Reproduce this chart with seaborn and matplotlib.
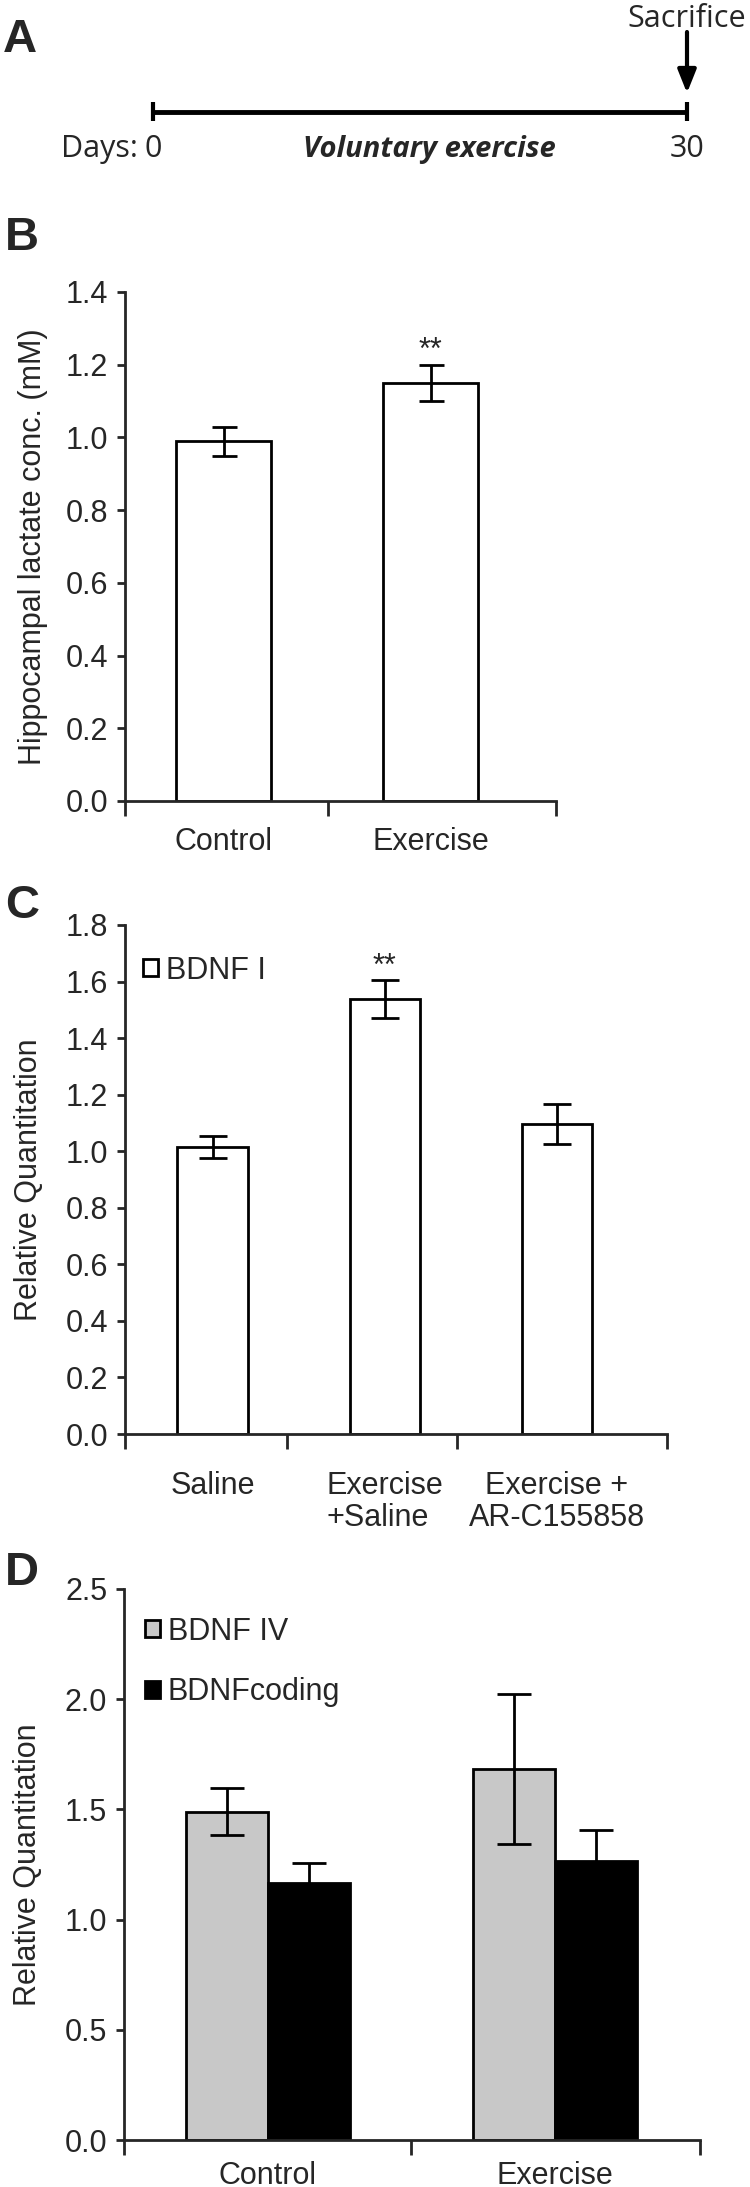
"""
Exercise / lactate / BDNF figure, panels A-D.
"""

import numpy as np
import pandas as pd
import matplotlib
matplotlib.use("Agg")
import matplotlib.pyplot as plt
import seaborn as sns

# Panel A: timeline (days)
timeline_days = [0, 30]

# Panel B: hippocampal lactate (mM)
b_groups = ["Control", "Exercise"]
b_means = [0.99, 1.15]
b_errs = [0.04, 0.05]

# Panel C: BDNF I relative quantitation
c_groups = ["Saline", "Exercise\n+Saline", "Exercise +\nAR-C155858"]
c_means = [1.015, 1.537, 1.097]
c_errs = [0.04, 0.067, 0.07]

# Panel D: BDNF IV / BDNF coding
d_groups = ["Control", "Exercise"]
d_series = ["BDNF IV", "BDNFcoding"]
d_bdnf4 = [1.49, 1.685]
d_bdnf4_err = [0.105, 0.34]
d_coding = [1.165, 1.268]
d_coding_err = [0.09, 0.14]

W, H = 750, 2187
FS = 22
TIMELINE_FONT = ['Open Sans', 'Liberation Sans', 'DejaVu Sans']

sns.set_style("ticks")
plt.rcParams['font.family'] = ['Liberation Sans', 'DejaVu Sans']
plt.rcParams['font.size'] = FS

fig = plt.figure(figsize=(W / 100, H / 100), dpi=100)


def box(left, right, top, bottom):
    # pixel box -> figure fraction
    return [left / W, 1 - bottom / H, (right - left) / W, (bottom - top) / H]


def style_axis(ax, ymax, ystep, xlim, bounds, xpad):
    ax.set_ylim(0, ymax)
    ax.set_yticks(np.arange(0, ymax + 1e-9, ystep))
    ax.yaxis.set_major_formatter('{x:.1f}')
    ax.set_xlim(*xlim)
    ax.set_xticks(bounds, minor=True)
    ax.tick_params(axis='x', which='major', length=0, pad=xpad, labelsize=FS)
    ax.tick_params(axis='x', which='minor', length=11, width=2, direction='out')
    ax.tick_params(axis='y', length=6, width=2, pad=6, labelsize=FS, direction='out')
    sns.despine(ax=ax)
    for s in ['left', 'bottom']:
        ax.spines[s].set_linewidth(2)
    ax.set_xlabel('')


def add_errors(ax, container, errs, capsize):
    xs = [p.get_x() + p.get_width() / 2 for p in container]
    ys = [p.get_height() for p in container]
    ax.errorbar(xs, ys, yerr=errs, fmt='none', ecolor='black',
                elinewidth=2, capsize=capsize, capthick=2, zorder=5)
    return xs, ys


def add_stars(ax, x, y):
    ax.annotate('**', xy=(x, y), xytext=(0, 4), textcoords='offset points',
                ha='center', va='baseline', fontsize=FS)


# ---------------- Panel A ----------------
ax_a = fig.add_axes(box(153, 687, 0, 200))
ax_a.set_xlim(timeline_days[0], timeline_days[-1])
ax_a.set_ylim(200, 0)
ax_a.axis('off')
ax_a.plot(timeline_days, [112, 112], color='black', lw=3.5, solid_capstyle='butt', clip_on=False)
ax_a.vlines(timeline_days, 102, 121, color='black', lw=3.0, clip_on=False)
ax_a.annotate('', xy=(timeline_days[-1], 93), xytext=(timeline_days[-1], 32),
              arrowprops=dict(arrowstyle='-|>,head_length=0.7,head_width=0.28',
                              lw=3, color='black', mutation_scale=20,
                              shrinkA=0, shrinkB=0),
              annotation_clip=False)
ax_a.text(timeline_days[-1], 27, 'Sacrifice', ha='center', va='baseline',
          fontsize=FS, family=TIMELINE_FONT)
ax_a.text(timeline_days[0], 157, '0', ha='center', va='baseline',
          fontsize=FS, family=TIMELINE_FONT)
ax_a.annotate('Days:', xy=(timeline_days[0], 157), xytext=(-11, 0),
              textcoords='offset points', ha='right', va='baseline', fontsize=FS,
              family=TIMELINE_FONT, annotation_clip=False)
ax_a.text(timeline_days[-1], 157, '30', ha='center', va='baseline',
          fontsize=FS, family=TIMELINE_FONT)
ax_a.text(15.5, 157, 'Voluntary exercise', ha='center', va='baseline',
          fontsize=FS - 1, fontweight='bold', fontstyle='italic', family=TIMELINE_FONT)

# ---------------- Panel B ----------------
ax_b = fig.add_axes(box(125, 556, 292, 801))
sns.barplot(x=b_groups, y=b_means, color='white', edgecolor='black', linewidth=2,
            width=0.46, saturation=1, errorbar=None, ax=ax_b)
xs, ys = add_errors(ax_b, ax_b.containers[0], b_errs, 9)
add_stars(ax_b, xs[1], ys[1] + b_errs[1])
style_axis(ax_b, 1.4, 0.2, (-0.476, 1.606), [-0.476, 0.505, 1.606], 19)
ax_b.set_ylabel('Hippocampal lactate conc. (mM)', fontsize=FS)
ax_b.yaxis.set_label_coords(-0.179, 0.5)

# ---------------- Panel C ----------------
ax_c = fig.add_axes(box(125, 667, 925, 1434))
sns.barplot(x=c_groups, y=c_means, color='white', edgecolor='black', linewidth=2,
            width=0.41, saturation=1, errorbar=None, label='BDNF I', ax=ax_c)
xs, ys = add_errors(ax_c, ax_c.containers[0], c_errs, 10)
add_stars(ax_c, xs[1], ys[1] + c_errs[1])
style_axis(ax_c, 1.8, 0.2, (-0.51, 2.64), [-0.51, 0.43, 1.42, 2.64], 27)
ax_c.set_ylabel('Relative Quantitation', fontsize=FS)
ax_c.yaxis.set_label_coords(-0.149, 0.5)
labs = ax_c.get_xticklabels()
for lab in labs:
    lab.set_linespacing(1.05)
labs[1].set_multialignment('left')
labs[2].set_multialignment('center')
ax_c.legend(loc='upper left', bbox_to_anchor=(0.033, 0.94), frameon=False,
            handlelength=0.5, handleheight=0.5, handletextpad=0.25,
            borderpad=0, borderaxespad=0, fontsize=FS)

# ---------------- Panel D ----------------
ax_d = fig.add_axes(box(124, 700, 1589, 2140))
df_d = pd.DataFrame({
    'group': d_groups * 2,
    'series': [d_series[0]] * 2 + [d_series[1]] * 2,
    'value': d_bdnf4 + d_coding,
})
sns.barplot(data=df_d, x='group', y='value', hue='series',
            palette=['#c8c8c8', 'black'], edgecolor='black', linewidth=2,
            width=0.57, saturation=1, errorbar=None, ax=ax_d)
bars = list(ax_d.containers)
add_errors(ax_d, bars[0], d_bdnf4_err, 12)
add_errors(ax_d, bars[1], d_coding_err, 12)
style_axis(ax_d, 2.5, 0.5, (-0.50, 1.505), [-0.50, 0.5, 1.505], 15)
ax_d.set_ylabel('Relative Quantitation', fontsize=FS)
ax_d.yaxis.set_label_coords(-0.141, 0.5)
old = ax_d.get_legend()
handles = old.legend_handles
labels = [t.get_text() for t in old.get_texts()]
ax_d.legend(handles, labels, loc='upper left', bbox_to_anchor=(0.036, 0.95),
            frameon=False, handlelength=0.5, handleheight=0.5, handletextpad=0.25,
            labelspacing=1.0, borderpad=0, borderaxespad=0, fontsize=FS)

# panel letters
for letter, x, base in [('A', 3, 52), ('B', 5, 250), ('C', 5, 918), ('D', 5, 1585)]:
    fig.text(x / W, 1 - base / H, letter, fontsize=34, fontweight='heavy',
             ha='left', va='baseline')

fig.savefig('out.png', dpi=100)
